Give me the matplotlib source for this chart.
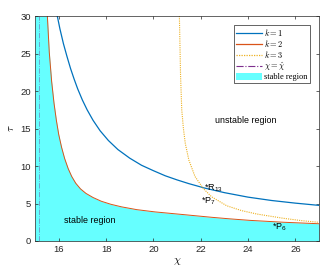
import numpy as np
import matplotlib
matplotlib.use('Agg')
import matplotlib.pyplot as plt
from matplotlib.patches import Patch
from matplotlib.lines import Line2D

plt.rcParams['mathtext.fontset'] = 'cm'
plt.rcParams['font.family'] = 'Liberation Sans'

# curve k=1 (blue)
chi_k1 = [15.94, 16.05, 16.2, 16.35, 16.5, 16.65, 16.8, 17.0, 17.2, 17.45,
          17.75, 18.1, 18.5, 19.0, 19.5, 20.0, 20.5, 21.0, 21.5, 22.18,
          23.0, 24.0, 25.0, 26.0, 27.0]
tau_k1 = [30.0, 28.3, 26.3, 24.6, 23.0, 21.6, 20.3, 18.8, 17.5, 16.1,
          14.7, 13.4, 12.2, 11.05, 10.1, 9.38, 8.7, 8.15, 7.65, 7.05,
          6.45, 5.85, 5.4, 5.05, 4.75]

# curve k=2 (orange) = stable boundary
chi_k2 = [15.52, 15.6, 15.7, 15.8, 15.9, 16.0, 16.12, 16.25, 16.4, 16.55,
          16.72, 16.92, 17.15, 17.45, 17.8, 18.2, 18.66, 19.3, 20.07, 21.34,
          22.5, 23.24, 24.08, 25.5, 27.0]
tau_k2 = [30.0, 25.2, 21.3, 18.4, 16.1, 14.2, 12.5, 11.0, 9.65, 8.6,
          7.7, 6.95, 6.35, 5.8, 5.3, 4.9, 4.55, 4.18, 3.88, 3.5,
          3.15, 2.95, 2.75, 2.5, 2.3]

# curve k=3 (yellow dotted)
chi_k3 = [21.1, 21.15, 21.2, 21.27, 21.35, 21.5, 21.76, 22.11, 22.46, 23.1,
          23.73, 24.37, 25.49, 26.3, 27.0]
tau_k3 = [30.0, 22.0, 17.5, 15.0, 13.0, 10.8, 8.6, 7.0, 5.9, 4.7,
          4.05, 3.6, 3.03, 2.7, 2.49]

chi_hat = 15.18

labels = [r'$k=1$', r'$k=2$', r'$k=3$', r'$\chi=\hat{\chi}$', 'stable region']
pts = [('*R', '13', 22.12, 7.0), ('*P', '7', 22.0, 5.3), ('*P', '6', 25.0, 1.85)]

c1 = '#0072BD'
c2 = '#D95319'
c3 = '#EDB120'
c4 = '#7E2F8E'
cyan = '#66ffff'

fig = plt.figure(figsize=(3.34, 2.77), dpi=100)
ax = fig.add_axes([0.105, 0.13, 0.85, 0.812])

ax.fill_between([15.0] + chi_k2, [30.0] + tau_k2, 0, color=cyan, lw=0)
ax.plot(chi_k1, tau_k1, color=c1, lw=0.9)
ax.plot(chi_k2, tau_k2, color=c2, lw=0.7)
ax.plot(chi_k3, tau_k3, color=c3, lw=0.8, ls=(0, (1, 1)))
ax.axvline(chi_hat, color=c4, lw=0.6, ls='-.', alpha=0.5)

for a, s, x, y in pts:
    ax.text(x, y, a + r'$_{\mathregular{' + s + '}}$', fontsize=6.5,
            va='center', ha='left')

ax.text(23.9, 16.1, 'unstable region', fontsize=6.4, ha='center', va='center')
ax.text(17.3, 2.67, 'stable region', fontsize=6.4, ha='center', va='center')

ax.set_xlim(15, 27)
ax.set_ylim(0, 30)
ax.set_xticks([16, 18, 20, 22, 24, 26])
ax.set_yticks([0, 5, 10, 15, 20, 25, 30])
ax.tick_params(direction='in', top=True, right=True, labelsize=6.8,
               length=2.5, width=0.5, colors='#262626', pad=3)
for sp in ax.spines.values():
    sp.set_linewidth(0.5)
    sp.set_color('#262626')
ax.set_xlabel(r'$\chi$', fontsize=8, labelpad=1)
ax.set_ylabel(r'$\tau$', fontsize=8, labelpad=3)

handles = [Line2D([], [], color=c1, lw=0.9),
           Line2D([], [], color=c2, lw=0.9),
           Line2D([], [], color=c3, lw=0.9, ls=(0, (1, 1))),
           Line2D([], [], color=c4, lw=0.8, ls='-.'),
           Patch(facecolor=cyan, edgecolor='none')]
leg = ax.legend(handles, labels, loc='upper right',
                prop={'family': 'Liberation Serif', 'size': 6},
                fancybox=False, edgecolor='#262626', framealpha=1,
                borderpad=0.25, labelspacing=0.0, handlelength=3.1,
                handleheight=0.9, handletextpad=0.25, borderaxespad=1.1)
leg.get_frame().set_linewidth(0.5)

fig.savefig('out.png', dpi=100)
